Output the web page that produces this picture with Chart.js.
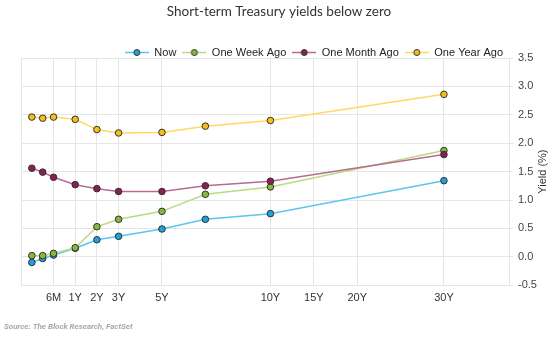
<!DOCTYPE html>
<html>
<head>
<meta charset="utf-8">
<script src="https://cdn.jsdelivr.net/npm/chart.js@4.4.1/dist/chart.umd.min.js"></script>
<style>
  html, body { margin: 0; padding: 0; background: #fff; }
  #wrap { width: 554px; height: 347px; }
</style>
</head>
<body>
<div id="wrap"><canvas id="myChart"></canvas></div>
<script>
// maturities and where they sit on the x axis
const maturities = ['1M', '3M', '6M', '1Y', '2Y', '3Y', '5Y', '7Y', '10Y', '30Y'];
const maturityPos = [-1, -0.5, 0, 1, 2, 3, 5, 7, 10, 18];

// axis ticks
const tickPos = [0, 1, 2, 3, 5, 10, 12, 14, 18];
const tickLabels = ['6M', '1Y', '2Y', '3Y', '5Y', '10Y', '15Y', '20Y', '30Y'];

// yields (%)
const seriesNames = ['Now', 'One Week Ago', 'One Month Ago', 'One Year Ago'];
const now      = [-0.10, -0.03, 0.03, 0.15, 0.30, 0.36, 0.49, 0.66, 0.76, 1.34];
const weekAgo  = [0.02, 0.02, 0.06, 0.16, 0.53, 0.66, 0.80, 1.10, 1.23, 1.87];
const monthAgo = [1.56, 1.49, 1.40, 1.27, 1.20, 1.15, 1.15, 1.25, 1.33, 1.80];
const yearAgo  = [2.46, 2.44, 2.46, 2.42, 2.24, 2.18, 2.19, 2.30, 2.40, 2.86];

const titleText = 'Short-term Treasury yields below zero';
const sourceText = 'Source: The Block Research, FactSet';
const yTitle = 'Yield (%)';

const lineColors  = ['#5cc6ee', '#b9dc83', '#b76b93', '#ffd963'];
const pointColors = ['#1ea2d8', '#86b83e', '#8a1f53', '#f4bf1c'];

function toPoints(vals) {
  return vals.map((v, i) => ({ x: maturityPos[i], y: v }));
}

// little "line + dot" icons for the legend
function legendIcon(line, fill) {
  const c = document.createElement('canvas');
  c.width = 24; c.height = 9;
  const g = c.getContext('2d');
  g.strokeStyle = line; g.lineWidth = 1.5;
  g.beginPath(); g.moveTo(0, 4.5); g.lineTo(24, 4.5); g.stroke();
  g.beginPath(); g.arc(12, 4.5, 3, 0, Math.PI * 2);
  g.fillStyle = fill; g.fill();
  g.strokeStyle = '#333'; g.lineWidth = 1; g.stroke();
  return c;
}
const icons = lineColors.map((c, i) => legendIcon(c, pointColors[i]));

const allSeries = [now, weekAgo, monthAgo, yearAgo];
const datasets = allSeries.map((vals, i) => ({
  label: seriesNames[i],
  data: toPoints(vals),
  borderColor: lineColors[i],
  backgroundColor: pointColors[i],
  pointBackgroundColor: pointColors[i],
  pointBorderColor: '#333',
  pointBorderWidth: 1,
  pointRadius: 3.3,
  borderWidth: 1.5,
  tension: 0,
  order: 4 - i
}));

// legend sits close to the plot
const legendNudge = {
  id: 'legendNudge',
  afterLayout(chart) {
    chart.legend.top += 10;
    chart.legend.bottom += 10;
  }
};

// y title reads bottom-to-top on the right
const yTitlePlugin = {
  id: 'yTitle',
  afterDraw(chart) {
    const ctx = chart.ctx;
    const a = chart.chartArea;
    ctx.save();
    ctx.translate(543, (a.top + a.bottom) / 2);
    ctx.rotate(-Math.PI / 2);
    ctx.font = '11px "Liberation Sans", Arial, sans-serif';
    ctx.fillStyle = '#333';
    ctx.textAlign = 'center';
    ctx.textBaseline = 'middle';
    ctx.fillText(yTitle, 0, 0);
    ctx.restore();
  }
};

const gridColor = '#e6e6e6';

const ctx = document.getElementById('myChart').getContext('2d');
const myChart = new Chart(ctx, {
  type: 'line',
  data: { datasets: datasets },
  plugins: [legendNudge, yTitlePlugin],
  options: {
    responsive: true,
    maintainAspectRatio: false,
    animation: false,
    layout: { padding: { left: 4, right: 0, top: 0, bottom: 0 } },
    scales: {
      x: {
        type: 'linear',
        min: -1.5,
        max: 21,
        afterBuildTicks: (axis) => {
          axis.ticks = [-1.5].concat(tickPos, [21]).map(v => ({ value: v }));
        },
        afterFit: (scale) => { scale.paddingLeft = 21; },
        grid: { color: gridColor, drawTicks: false },
        border: { color: gridColor },
        ticks: {
          autoSkip: false,
          maxRotation: 0,
          padding: 6,
          color: '#333',
          font: { family: '"Liberation Sans", Arial, sans-serif', size: 11 },
          callback: (v) => {
            const k = tickPos.indexOf(v);
            return k >= 0 ? tickLabels[k] : '';
          }
        }
      },
      y: {
        position: 'right',
        min: -0.5,
        max: 3.5,
        afterFit: (scale) => { scale.width = 45; },
        grid: { color: gridColor, tickLength: 4 },
        border: { color: gridColor },
        ticks: {
          stepSize: 0.5,
          padding: 5,
          color: '#444',
          font: { family: '"Liberation Sans", Arial, sans-serif', size: 11 },
          callback: (v) => v.toFixed(1)
        }
      }
    },
    plugins: {
      title: {
        display: true,
        text: titleText,
        color: '#333',
        font: { family: 'Lato, sans-serif', size: 13.5, weight: 'normal' },
        padding: { top: 4, bottom: 10.8 }
      },
      subtitle: {
        display: true,
        text: sourceText,
        position: 'bottom',
        align: 'start',
        color: '#a8a8a8',
        font: { family: 'Roboto, sans-serif', size: 8, weight: 'bold', style: 'italic' },
        padding: { top: 12, bottom: 15 }
      },
      legend: {
        display: true,
        position: 'top',
        align: 'end',
        fullSize: false,
        labels: {
          usePointStyle: true,
          pointStyleWidth: 24,
          padding: 6,
          color: '#222',
          font: { family: '"Liberation Sans", Arial, sans-serif', size: 11 },
          sort: (a, b) => a.datasetIndex - b.datasetIndex,
          generateLabels: (chart) => {
            const items = Chart.defaults.plugins.legend.labels.generateLabels(chart);
            items.forEach(it => { it.pointStyle = icons[it.datasetIndex]; });
            return items;
          }
        }
      },
      tooltip: { enabled: false }
    }
  }
});
</script>
</body>
</html>
